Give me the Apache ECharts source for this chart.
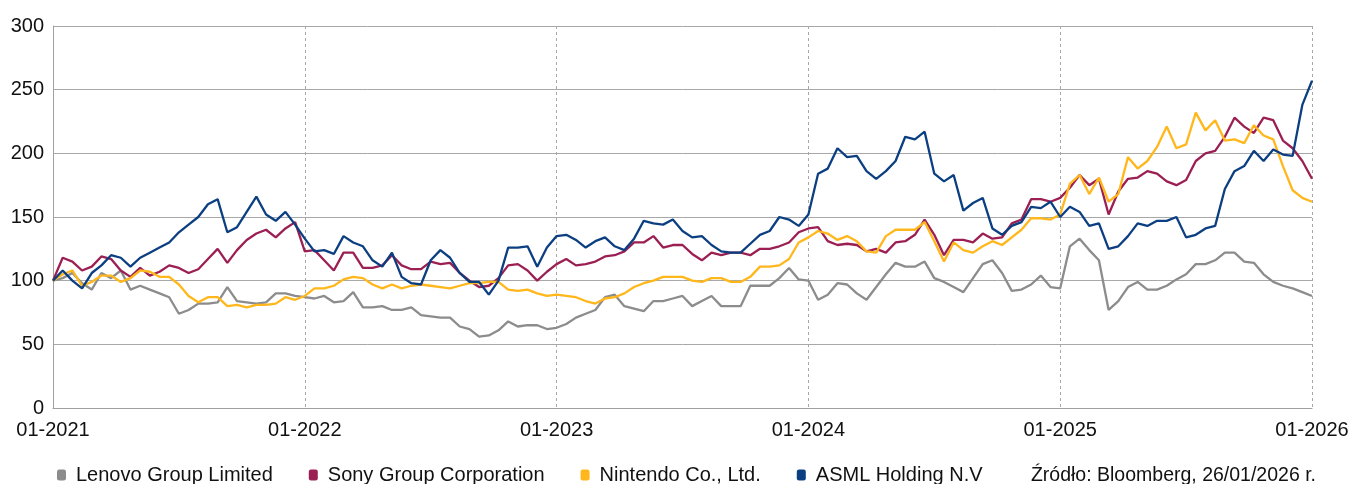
<!DOCTYPE html>
<html><head><meta charset="utf-8">
<script src="https://cdn.jsdelivr.net/npm/echarts@6/dist/echarts.min.js"></script>
<style>html,body{margin:0;padding:0;background:#fff}#c{width:1352px;height:484px}</style>
</head><body><div id="c"></div>
<script>
// x ticks (one per year, 26 bi-weekly steps per year, 26/01/2021 .. 26/01/2026)
const yearLabels = ['01-2021','01-2022','01-2023','01-2024','01-2025','01-2026'];
const stepsPerYear = 26;
const yTicks = [0, 50, 100, 150, 200, 250, 300];
const seriesNames = ['Lenovo Group Limited','Sony Group Corporation','Nintendo Co., Ltd.','ASML Holding N.V'];

const lenovo = [
 100,102,106,98,93,106,102,108,93,96,93,90,87,74,77,82,82,83,95,84,83,82,83,90,90,88,
 87,86,88,83,84,91,79,79,80,77,77,79,73,72,71,71,64,62,56,57,61,68,64,65,65,62,
 63,66,71,74,77,87,89,80,78,76,84,84,86,88,80,84,88,80,80,80,96,96,96,102,110,101,
 100,85,89,98,97,90,85,95,105,114,111,111,115,102,99,95,91,102,113,116,106,92,93,97,104,95,
 94,127,133,124,116,77,84,95,99,93,93,96,101,105,113,113,116,122,122,115,114,105,99,96,94,91,88];
const sony = [
 100,118,115,108,111,119,117,108,103,110,104,107,112,110,106,109,117,125,114,124,132,137,140,134,141,146,
 123,124,116,108,122,122,110,110,112,120,112,109,109,115,113,114,106,100,95,96,102,112,113,108,100,107,
 113,117,112,113,115,119,120,123,130,130,135,126,128,128,121,116,122,120,122,122,120,125,125,127,130,138,
 141,142,131,128,129,128,123,125,122,130,131,136,148,136,120,132,132,130,137,133,134,145,148,164,164,162,
 165,173,183,175,180,152,170,180,181,186,184,178,175,179,194,200,202,213,228,221,216,228,226,210,204,194,180];
const nintendo = [
 100,105,108,96,99,104,104,99,102,108,107,103,103,97,88,83,87,87,80,81,79,81,81,82,87,85,
 88,94,94,96,101,103,102,97,94,97,94,96,97,96,95,94,96,98,98,99,99,93,92,93,90,88,
 89,88,87,84,82,86,87,90,95,98,100,103,103,103,100,99,102,102,99,99,103,111,111,112,117,130,
 134,139,137,132,135,131,123,122,135,140,140,140,146,131,115,130,124,122,127,131,128,134,140,149,149,148,
 152,176,183,168,181,162,168,197,188,194,205,221,204,207,232,218,226,210,211,208,222,214,211,190,171,165,162];
const asml = [
 100,108,100,94,106,112,120,118,111,118,122,126,130,138,144,150,160,164,138,142,154,166,152,147,154,144,
 133,123,124,121,135,130,127,116,111,122,103,98,97,116,124,118,106,99,99,89,100,126,126,127,111,126,
 135,136,132,126,131,134,127,124,133,147,145,144,148,139,134,135,128,123,122,122,129,136,139,150,148,143,
 152,184,188,204,197,198,186,180,186,194,213,211,217,184,178,183,155,161,165,141,136,143,146,158,157,162,
 150,158,154,143,145,125,127,135,145,143,147,147,150,134,136,141,143,172,186,190,202,194,203,199,198,238,257];

const colors = ['#8c8c8c', '#9b1f52', '#ffb71b', '#0b3f82'];
const FONT = "'Liberation Sans', Arial, sans-serif";
const toPairs = a => a.map((v, i) => [i, v]);
const allData = [lenovo, sony, nintendo, asml];

const chart = echarts.init(document.getElementById('c'), null, {renderer: 'canvas'});
chart.setOption({
  animation: false,
  backgroundColor: '#fff',
  color: colors,
  textStyle: {fontFamily: FONT},
  grid: {left: 53, right: 40, top: 26, bottom: 76, containLabel: false},
  xAxis: {
    type: 'value',
    min: 0, max: stepsPerYear * (yearLabels.length - 1), interval: stepsPerYear,
    axisLine: {show: true, lineStyle: {color: '#a0a0a0', width: 1}},
    axisTick: {show: false},
    axisLabel: {
      color: '#111', fontSize: 20, fontFamily: FONT, margin: 12,
      formatter: v => yearLabels[Math.round(v / stepsPerYear)] || ''
    },
    splitLine: {show: true, lineStyle: {color: '#a8a8a8', type: [3, 3], width: 1}}
  },
  yAxis: {
    type: 'value',
    min: yTicks[0], max: yTicks[yTicks.length - 1], interval: yTicks[1] - yTicks[0],
    axisLine: {show: true, lineStyle: {color: '#a0a0a0', width: 1}},
    axisTick: {show: false},
    axisLabel: {color: '#111', fontSize: 20, fontFamily: FONT, margin: 9},
    splitLine: {show: true, lineStyle: {color: '#a8a8a8', width: 1}}
  },
  legend: {
    show: true,
    left: 52, top: 460,
    itemWidth: 9, itemHeight: 11, itemGap: 36,
    icon: 'roundRect',
    textStyle: {fontSize: 20, color: '#111', fontFamily: FONT, padding: [0, 0, 0, 5]},
    data: seriesNames
  },
  graphic: [
    {type: 'text', right: 36, top: 466,
     style: {text: 'Źródło: Bloomberg, 26/01/2026 r.', fontSize: 19.5, fontFamily: FONT, fill: '#111'}},
    {type: 'text', left: 10, top: -19.5,
     style: {text: '[%, 2021=100]', fontSize: 20, fontFamily: FONT, fill: '#111'}}
  ],
  series: seriesNames.map((n, k) => ({
    name: n, type: 'line', data: toPairs(allData[k]),
    showSymbol: false, symbol: 'none', smooth: false,
    lineStyle: {width: 2.3, color: colors[k]}, itemStyle: {color: colors[k]},
    z: 2 + k
  }))
});
</script></body></html>
